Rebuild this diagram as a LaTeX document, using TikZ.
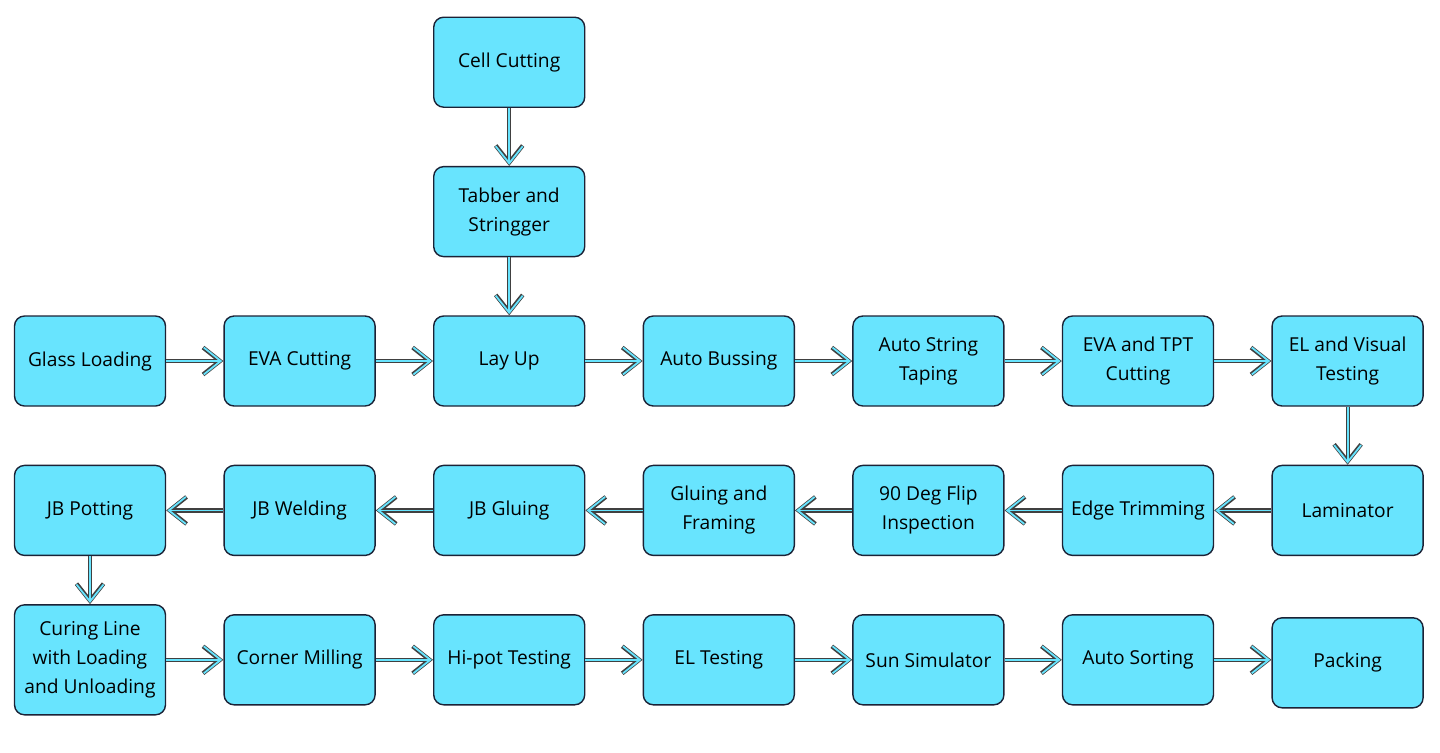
\documentclass[tikz,border=0pt]{standalone}
\usepackage{fontspec}
\setmainfont{Open Sans}
\usetikzlibrary{arrows.meta,positioning}
\definecolor{stagecyan}{HTML}{68E4FE}
\definecolor{stageedge}{HTML}{1B2236}

\begin{document}
\begin{tikzpicture}[
    x=0.5pt, y=-0.5pt,
    font=\fontsize{9.6}{14.5}\selectfont,
    node distance=29pt and 28.6pt,
    stage/.style={
        rectangle, draw=stageedge, line width=0.7pt,
        fill=stagecyan, rounded corners=5pt, align=center,
        minimum width=75.5pt, minimum height=45pt, inner sep=2pt
    },
    flow/.style={draw=black!75, line width=2.1pt,
        -{Straight Barb[length=8.5pt, width=13.5pt]},
        postaction={draw=stagecyan, line width=0.9pt, shorten >=0.6pt,
            -{Straight Barb[length=8.5pt, width=13.5pt]}}},
]
  \useasboundingbox (0,0) rectangle (1440,752);

  %––– Row 2: loading to testing –––––––––––––––––––––––––––
  \node (glass) [stage] at (90,361) {Glass Loading};
  \node (evacut) [stage, right=of glass] {EVA Cutting};
  \node (layup) [stage, right=of evacut] {Lay Up};
  \node (bussing) [stage, right=of layup] {Auto Bussing};
  \node (taping) [stage, right=of bussing] {Auto String\\Taping};
  \node (tptcut) [stage, right=of taping] {EVA and TPT\\Cutting};
  \node (elvis) [stage, right=of tptcut] {EL and Visual\\Testing};

  %––– Cell branch on top –––––––––––––––––––––––––––––––––––
  \node (tabber) [stage, above=of layup] {Tabber and\\Stringger};
  \node (cellcut) [stage, above=of tabber] {Cell Cutting};

  %––– Row 3: back to the left ––––––––––––––––––––––––––––––
  \node (lamin) [stage, below=of elvis] {Laminator};
  \node (edgetrim) [stage, left=of lamin] {Edge Trimming};
  \node (flip) [stage, left=of edgetrim] {90 Deg Flip\\Inspection};
  \node (framing) [stage, left=of flip] {Gluing and\\Framing};
  \node (jbglue) [stage, left=of framing] {JB Gluing};
  \node (jbweld) [stage, left=of jbglue] {JB Welding};
  \node (jbpot) [stage, left=of jbweld] {JB Potting};

  %––– Row 4: curing to packing –––––––––––––––––––––––––––––
  \node (curing) [stage, minimum height=55pt, below=24pt of jbpot] {Curing Line\\with Loading\\and Unloading};
  \node (milling) [stage, right=of curing] {Corner Milling};
  \node (hipot) [stage, right=of milling] {Hi-pot Testing};
  \node (eltest) [stage, right=of hipot] {EL Testing};
  \node (sunsim) [stage, right=of eltest] {Sun Simulator};
  \node (sorting) [stage, right=of sunsim] {Auto Sorting};
  \node (packing) [stage, right=of sorting, yshift=-1.5pt] {Packing};

  %––– Arrows –––––––––––––––––––––––––––––––––––––––––––––––
  \draw[flow] (cellcut) -- (tabber);
  \draw[flow] (tabber) -- (layup);
  \draw[flow] (glass) -- (evacut);
  \draw[flow] (evacut) -- (layup);
  \draw[flow] (layup) -- (bussing);
  \draw[flow] (bussing) -- (taping);
  \draw[flow] (taping) -- (tptcut);
  \draw[flow] (tptcut) -- (elvis);
  \draw[flow] (elvis) -- (lamin);
  \draw[flow] (lamin) -- (edgetrim);
  \draw[flow] (edgetrim) -- (flip);
  \draw[flow] (flip) -- (framing);
  \draw[flow] (framing) -- (jbglue);
  \draw[flow] (jbglue) -- (jbweld);
  \draw[flow] (jbweld) -- (jbpot);
  \draw[flow] (jbpot) -- (curing);
  \draw[flow] (curing) -- (milling);
  \draw[flow] (milling) -- (hipot);
  \draw[flow] (hipot) -- (eltest);
  \draw[flow] (eltest) -- (sunsim);
  \draw[flow] (sunsim) -- (sorting);
  \draw[flow] (sorting.east) -- (sorting.east -| packing.west);
\end{tikzpicture}
\end{document}
